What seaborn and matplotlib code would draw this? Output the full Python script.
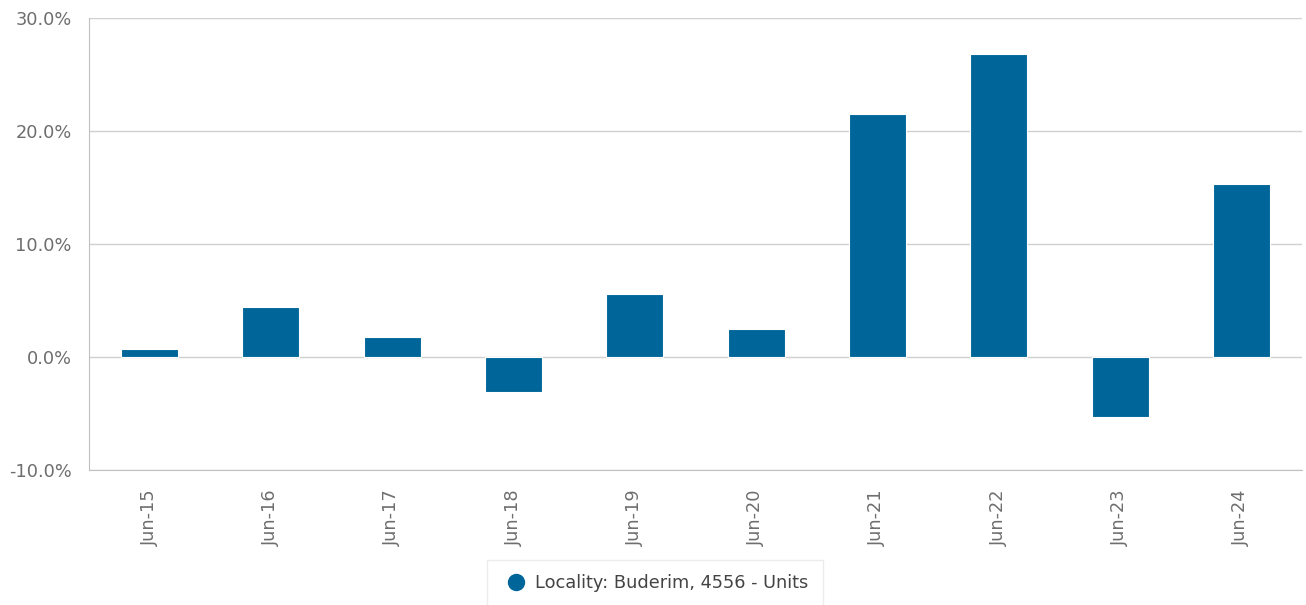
import matplotlib
matplotlib.use("Agg")
import matplotlib.pyplot as plt
import seaborn as sns
import pandas as pd
from matplotlib.lines import Line2D
from matplotlib.ticker import MultipleLocator, FuncFormatter

# data
periods = ["Jun-15", "Jun-16", "Jun-17", "Jun-18", "Jun-19",
           "Jun-20", "Jun-21", "Jun-22", "Jun-23", "Jun-24"]
growth = [0.7, 4.4, 1.8, -3.1, 5.6, 2.5, 21.5, 26.8, -5.3, 15.3]
series_name = "Locality: Buderim, 4556 - Units"

df = pd.DataFrame({"period": periods, "growth": growth})

sns.set_style("white")
plt.rcParams["font.family"] = ["DejaVu Sans"]

bar_color = "#006699"
text_color = "#6e6e6e"
grid_color = "#d0d0d0"
fs = 12.8

fig = plt.figure(figsize=(13.06, 6.05), dpi=100)
ax = fig.add_axes([0.068, 0.223, 0.929, 0.747])

sns.barplot(data=df, x="period", y="growth", color=bar_color,
            width=0.47, saturation=1, ax=ax, zorder=3,
            edgecolor="white", linewidth=0.8)

ax.set_ylim(-10, 30)
ax.set_xlim(-0.5, len(periods) - 0.5)
ax.yaxis.set_major_locator(MultipleLocator(10))
ax.yaxis.set_minor_locator(MultipleLocator(2))
ax.yaxis.set_major_formatter(FuncFormatter(lambda v, p: f"{v:.1f}%"))
ax.grid(axis="y", which="major", color=grid_color, linewidth=1, zorder=0)

for side in ["top", "right"]:
    ax.spines[side].set_visible(False)
ax.spines["left"].set_color("#c0c0c0")
ax.spines["bottom"].set_color("#c0c0c0")

ax.tick_params(axis="y", which="major", length=3.6, color="#c0c0c0",
               labelsize=fs, labelcolor=text_color, pad=8.6)
ax.tick_params(axis="y", which="minor", length=3.6, color="#c0c0c0")
ax.tick_params(axis="x", length=5.8, color="#ccd6eb", labelsize=fs,
               labelcolor=text_color, rotation=90, pad=8)
ax.set_xlabel("")
ax.set_ylabel("")

handle = Line2D([], [], marker="o", linestyle="", markersize=11.5,
                markerfacecolor=bar_color, markeredgecolor=bar_color)
leg = fig.legend([handle], [series_name], loc="upper center",
                 bbox_to_anchor=(0.5015, 1 - 560 / 605), frameon=True,
                 fontsize=fs, handlelength=1.6, handletextpad=0.3,
                 borderpad=0.8, fancybox=False, borderaxespad=0)
leg.get_frame().set_edgecolor("#e8e8e8")
for t in leg.get_texts():
    t.set_color("#444444")

fig.savefig("out.png", dpi=100)
